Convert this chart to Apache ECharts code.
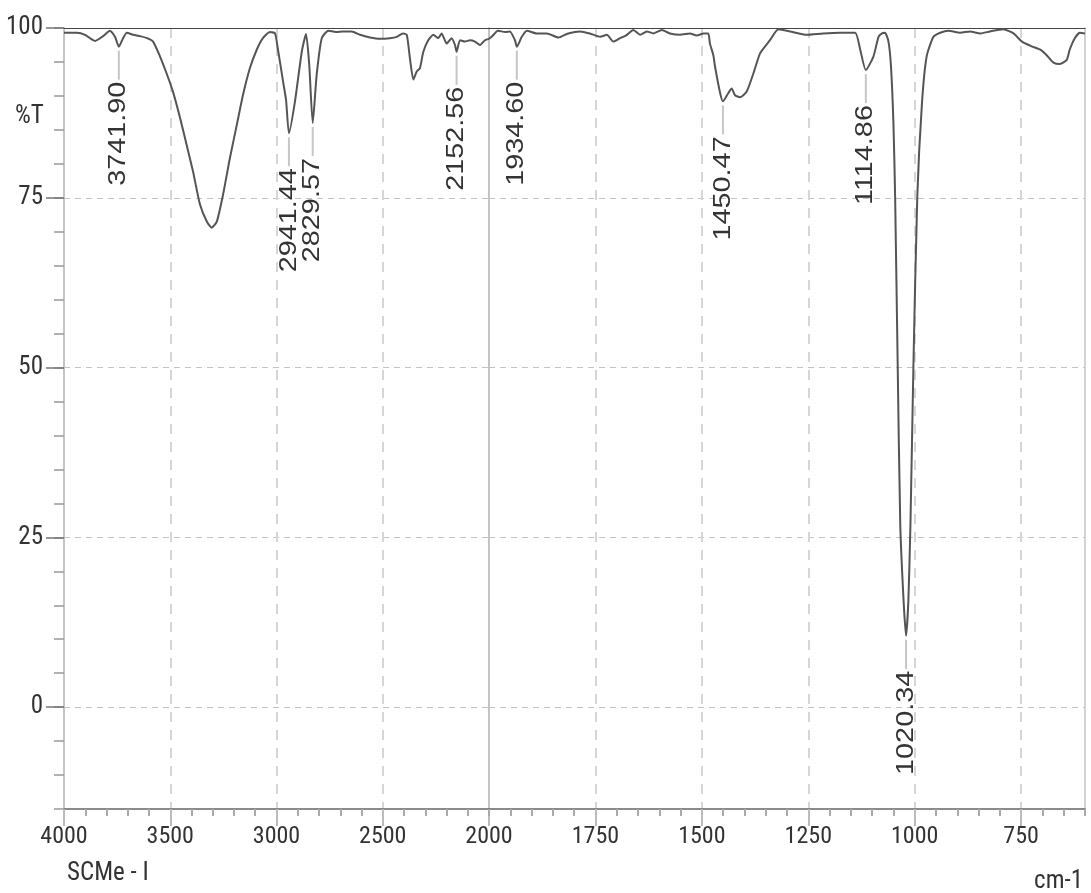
<!DOCTYPE html>
<html>
<head>
<meta charset="utf-8">
<title>SCMe - I IR spectrum</title>
<script src="https://cdn.jsdelivr.net/npm/echarts@6/dist/echarts.min.js"></script>
<style>
  html, body { margin: 0; padding: 0; background: #fff; }
  #chart { width: 1091px; height: 893px; }
</style>
</head>
<body>
<div id="chart"></div>
<script>
// Transmittance spectrum, split at 2000 cm-1 (the low-wavenumber half uses a 2x scale)
const spectrumHigh = [
  [4000, 99.3], [3995, 99.3], [3939, 99.3], [3901, 99.0], [3854, 98.1], [3816, 98.8],
  [3784, 99.6], [3760, 98.7], [3741.9, 97.25], [3722, 98.5], [3704, 99.3], [3675, 99.0],
  [3642, 98.8], [3609, 98.5], [3581, 98.0], [3548, 95.8], [3517, 93.3], [3487, 90.6],
  [3454, 86.8], [3423, 82.8], [3393, 78.9], [3360, 74.0], [3328, 71.5], [3305, 70.6],
  [3281, 71.5], [3252, 75.4], [3219, 80.9], [3187, 85.7], [3158, 90.1], [3125, 94.1],
  [3093, 96.8], [3064, 98.5], [3031, 99.4], [3007, 99.2], [2993, 96.8], [2969, 92.1],
  [2955, 89.4], [2941.44, 84.5], [2913, 89.2], [2881, 96.5], [2861, 99.1], [2846, 94.6],
  [2829.57, 86.0], [2811, 93.1], [2787, 98.5], [2756, 99.6], [2720, 99.4], [2687, 99.5],
  [2646, 99.5], [2607, 99.0], [2560, 98.6], [2513, 98.4], [2466, 98.5], [2434, 98.7],
  [2405, 99.2], [2387, 99.0], [2372, 95.5], [2356, 92.4], [2340, 93.6], [2325, 94.1],
  [2309, 96.5], [2286, 98.2], [2262, 99.0], [2239, 98.5], [2223, 99.2], [2199, 97.7],
  [2176, 98.5], [2160, 97.5], [2152.56, 96.5], [2136, 98.2], [2113, 98.0], [2089, 98.2],
  [2066, 98.0], [2042, 97.5], [2019, 98.2], [2000, 98.4]
];

const spectrumLow = [
  [2000, 98.4], [1994, 98.7], [1982, 99.5], [1979, 99.6], [1962, 99.4], [1951, 99.5],
  [1939, 98.2], [1934.6, 97.25], [1923, 98.7], [1911, 99.6], [1888, 99.2], [1864, 99.2],
  [1837, 98.6], [1814, 99.2], [1786, 99.5], [1763, 99.2], [1739, 98.7], [1723, 99.0],
  [1708, 98.0], [1692, 98.5], [1676, 99.0], [1661, 99.7], [1645, 99.0], [1629, 99.5],
  [1614, 99.2], [1594, 99.7], [1575, 99.2], [1551, 99.0], [1528, 99.2], [1512, 98.9],
  [1496, 99.2], [1485, 99.2], [1481, 97.7], [1473, 96.0], [1469, 94.3], [1457, 90.4],
  [1450.47, 89.2], [1438, 90.4], [1430, 91.1], [1422, 90.1], [1410, 89.8], [1395, 90.6],
  [1379, 93.3], [1363, 96.3], [1340, 98.2], [1320, 99.8], [1293, 99.5], [1254, 99.0],
  [1215, 99.2], [1175, 99.3], [1140, 99.3], [1128, 96.8], [1114.86, 93.8], [1097, 95.8],
  [1085, 98.7], [1077, 99.2], [1070, 99.3], [1062, 98.1], [1056, 94.6], [1050, 86.0],
  [1046, 75.1], [1040, 50.4], [1034, 27.0], [1026, 15.5], [1020.34, 10.5], [1015, 15.5],
  [1010, 27.0], [1003, 50.4], [994, 75.1], [983, 88.9], [972, 95.8], [956, 98.7],
  [940, 99.3], [921, 99.6], [893, 99.3], [870, 99.5], [846, 99.2], [823, 99.5],
  [792, 99.8], [768, 99.2], [748, 98.0], [725, 97.3], [705, 96.8], [690, 96.0],
  [674, 94.9], [659, 94.7], [643, 95.3], [636, 96.8], [624, 98.5], [612, 99.3],
  [600, 99.2]
];

// Annotated band minima [wavenumber, %T]
const peaksHigh = [[3741.90, 97.25], [2941.44, 84.5], [2829.57, 86.0], [2152.56, 96.5]];
const peaksLow = [[1934.60, 97.25], [1450.47, 89.2], [1114.86, 93.8], [1020.34, 10.5]];

// Tick labels
const xTicksHigh = [4000, 3500, 3000, 2500, 2000];
const xTicksLow = [1750, 1500, 1250, 1000, 750];
const yTicks = [0, 25, 50, 75, 100];

const NARROW = '"Liberation Sans Narrow", "Arial Narrow", "Roboto Condensed", "Liberation Sans", sans-serif';
const TEXT = '#333';
const dashedV = { color: '#d6d6d6', width: 2, type: [10, 8] };
const dashedH = { color: '#c4c4c4', width: 1, type: [6, 5] };

const chart = echarts.init(document.getElementById('chart'), null, { renderer: 'canvas' });

// Vertical peak annotation: leader line below the minimum, then the wavenumber reading upward
function peakLabels(params, api) {
  const p = api.coord([api.value(0), api.value(1)]);
  const txt = api.value(0).toFixed(2);
  return {
    type: 'group',
    children: [
      {
        type: 'line',
        shape: { x1: p[0], y1: p[1] + 4, x2: p[0], y2: p[1] + 33 },
        style: { stroke: '#c6c6c6', lineWidth: 2 }
      },
      {
        type: 'text',
        x: p[0],
        y: p[1] + 35,
        rotation: Math.PI / 2,
        scaleX: 1.2,
        scaleY: 1,
        style: {
          text: txt,
          align: 'right',
          verticalAlign: 'middle',
          font: '24px "Liberation Sans", Arial, sans-serif',
          fill: TEXT
        }
      }
    ]
  };
}

const plainNumber = v => String(v);

function minorX(grid, min, max, interval) {
  return {
    type: 'value', gridIndex: grid, min: min, max: max, inverse: true, interval: interval,
    position: 'bottom',
    axisLine: { show: true, onZero: false, lineStyle: { color: '#666', width: 1.5 } },
    axisTick: { show: true, length: 7, lineStyle: { color: '#aaa', width: 2 } },
    axisLabel: { show: false },
    splitLine: { show: false }
  };
}
function majorX(grid, min, max, ticks) {
  return {
    type: 'value', gridIndex: grid, min: min, max: max, inverse: true,
    position: 'bottom',
    axisLine: { show: false, onZero: false },
    axisTick: { show: true, length: 17, customValues: ticks, lineStyle: { color: '#bbb', width: 2 } },
    axisLabel: {
      show: true, customValues: ticks, margin: 16, formatter: plainNumber,
      fontFamily: NARROW, fontSize: 24, color: TEXT
    },
    splitLine: { show: true, lineStyle: dashedV }
  };
}
function topX(grid, min, max) {
  return {
    type: 'value', gridIndex: grid, min: min, max: max, inverse: true,
    position: 'top',
    axisLine: { show: true, onZero: false, lineStyle: { color: '#444', width: 1 } },
    axisTick: { show: false }, axisLabel: { show: false }, splitLine: { show: false }
  };
}

const option = {
  backgroundColor: '#fff',
  animation: false,
  title: [
    { text: '%T', left: 10, top: 99, textStyle: { fontFamily: NARROW, fontSize: 25, fontWeight: 'normal', color: TEXT } },
    { text: 'SCMe - I', left: 62, top: 856, textStyle: { fontFamily: NARROW, fontSize: 25, fontWeight: 'normal', color: TEXT } },
    { text: 'cm-1', right: 3, top: 864, textStyle: { fontFamily: NARROW, fontSize: 25, fontWeight: 'normal', color: TEXT } }
  ],
  grid: [
    { left: 64, right: 602, top: 28, bottom: 84 },
    { left: 489, right: 6, top: 28, bottom: 84 }
  ],
  xAxis: [
    minorX(0, 2000, 4000, 100),
    majorX(0, 2000, 4000, xTicksHigh),
    topX(0, 2000, 4000),
    minorX(1, 600, 2000, 50),
    majorX(1, 600, 2000, xTicksLow),
    topX(1, 600, 2000)
  ],
  yAxis: [
    {
      type: 'value', gridIndex: 0, min: -15, max: 100, interval: 5, position: 'left',
      axisLine: { show: true, onZero: false, lineStyle: { color: '#c4c4c4', width: 2 } },
      axisTick: { show: true, length: 10, lineStyle: { color: '#999', width: 1.5 } },
      axisLabel: { show: false },
      splitLine: { show: false }
    },
    {
      type: 'value', gridIndex: 0, min: -15, max: 100, position: 'left',
      axisLine: { show: false, onZero: false },
      axisTick: { show: true, length: 18, customValues: yTicks, lineStyle: { color: '#777', width: 1.5 } },
      axisLabel: { show: true, customValues: yTicks, margin: 21, fontFamily: NARROW, fontSize: 25, color: TEXT },
      splitLine: { show: true, lineStyle: dashedH }
    },
    {
      // divider at 2000 cm-1
      type: 'value', gridIndex: 1, min: -15, max: 100, position: 'left',
      axisLine: { show: true, onZero: false, lineStyle: { color: '#c4c4c4', width: 2 } },
      axisTick: { show: false, customValues: yTicks },
      axisLabel: { show: false },
      splitLine: { show: true, lineStyle: dashedH }
    },
    {
      // right frame
      type: 'value', gridIndex: 1, min: -15, max: 100, position: 'right',
      axisLine: { show: true, onZero: false, lineStyle: { color: '#c4c4c4', width: 1.5 } },
      axisTick: { show: false }, axisLabel: { show: false }, splitLine: { show: false }
    }
  ],
  series: [
    {
      type: 'line', xAxisIndex: 0, yAxisIndex: 0, data: spectrumHigh,
      showSymbol: false, symbol: 'none', smooth: 0.2,
      lineStyle: { color: '#555', width: 2 }, z: 5
    },
    {
      type: 'line', xAxisIndex: 3, yAxisIndex: 2, data: spectrumLow,
      showSymbol: false, symbol: 'none', smooth: 0.2,
      lineStyle: { color: '#555', width: 2 }, z: 5
    },
    {
      type: 'custom', xAxisIndex: 0, yAxisIndex: 0, data: peaksHigh,
      renderItem: peakLabels, z: 6
    },
    {
      type: 'custom', xAxisIndex: 3, yAxisIndex: 2, data: peaksLow,
      renderItem: peakLabels, z: 6
    }
  ]
};

chart.setOption(option);
</script>
</body>
</html>
